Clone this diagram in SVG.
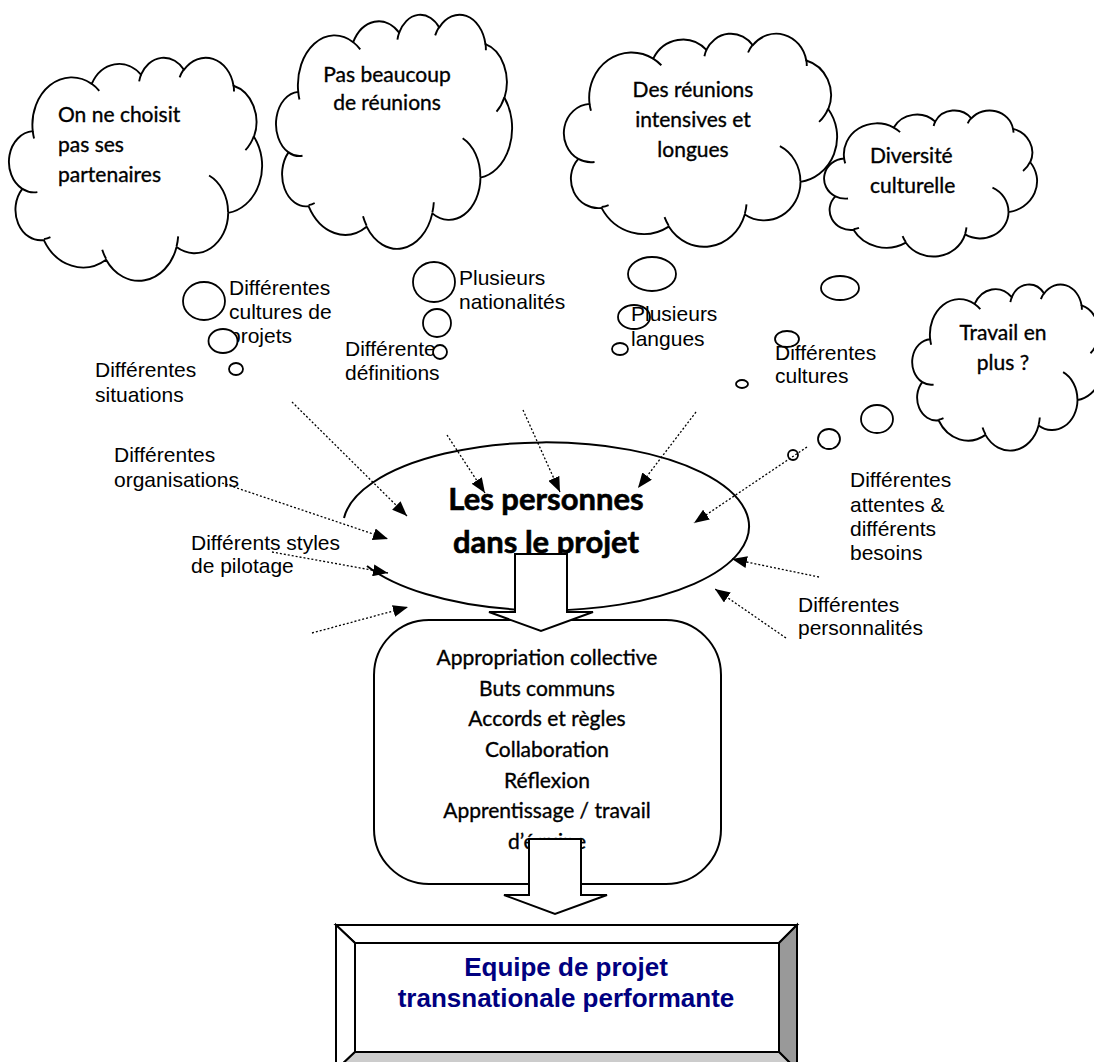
<svg xmlns="http://www.w3.org/2000/svg" width="1094" height="1062" viewBox="0 0 1094 1062">
<defs>
<style>
.cl{fill:#fff;stroke:#000;stroke-width:1.9;vector-effect:non-scaling-stroke;stroke-linejoin:round}
.cli{fill:none;stroke:#000;stroke-width:1.9;vector-effect:non-scaling-stroke}
.bub{fill:#fff;stroke:#000;stroke-width:1.8}
.hum{font-family:Lato,"Open Sans",sans-serif;font-size:21px;fill:#000;stroke:#000;stroke-width:0.35}
.ctr{text-anchor:middle}
.lbl{font-family:"Liberation Sans",Arial,sans-serif;font-size:21px;fill:#000}
.dot{fill:none;stroke:#000;stroke-width:1.3;stroke-dasharray:2 2;marker-end:url(#ah)}
.shape{fill:#fff;stroke:#000;stroke-width:2;stroke-linejoin:miter}
.title{font-family:Lato,"Open Sans",sans-serif;font-size:31px;font-weight:bold;fill:#000;stroke:#000;stroke-width:0.6;text-anchor:middle}
.res{font-family:"Liberation Sans",Arial,sans-serif;font-size:26px;font-weight:bold;fill:#000080;text-anchor:middle}
</style>
<marker id="ah" viewBox="0 0 15 12" refX="15" refY="6" markerWidth="15" markerHeight="12" markerUnits="userSpaceOnUse" orient="auto"><path d="M0,0 L15,6 L0,12 z" fill="#000"/></marker>
<g id="cloud">
<path class="cl" d="M9.03,33.26 A15.63,21.27 0 0 1 32.42,12.04 A12.34,16.82 0 0 1 51.98,7.94 A10.10,13.76 0 0 1 69.05,5.74 A11.24,15.27 0 0 1 88.70,12.90 A12.34,16.84 0 0 1 96.80,35.78 A15.68,21.34 0 0 1 86.58,69.91 A13.39,18.21 0 0 1 66.09,85.21 A15.63,21.33 0 0 1 38.14,90.89 A17.87,24.41 0 0 1 13.43,82.10 A10.09,13.70 0 0 1 4.89,59.13 A10.06,13.76 0 0 1 9.03,33.26 Z"/>
<path class="cli" d="M10.86,60.59 A10.06,13.76 0 0 1 4.89,59.13 M16.04,80.78 A10.09,13.70 0 0 1 13.47,81.67 M38.14,90.49 A15.63,21.33 0 0 1 36.60,86.46 M66.73,80.44 A15.63,21.33 0 0 1 66.11,84.86 M79.00,53.13 A13.39,18.21 0 0 1 86.53,69.65 M96.75,35.54 A12.34,16.84 0 0 1 93.41,41.73 M88.71,12.56 A11.24,15.27 0 0 1 88.89,15.49 M67.31,9.15 A11.24,15.27 0 0 1 69.03,5.42 M51.25,10.93 A10.10,13.76 0 0 1 52.08,7.71 M32.41,12.02 A15.63,21.27 0 0 1 35.42,15.14 M9.55,36.55 A15.63,21.27 0 0 1 9.03,33.26"/>
</g>
</defs>
<rect width="1094" height="1062" fill="#fff"/>

<g id="cloud-partenaires">
<use href="#cloud" transform="translate(10,57) scale(2.52,2.23)"/>
<text class="hum" x="58" y="122">On ne choisit</text>
<text class="hum" x="58" y="152">pas ses</text>
<text class="hum" x="58" y="182">partenaires</text>
</g>
<g id="cloud-reunions">
<use href="#cloud" transform="translate(277,14) scale(2.35,2.34)"/>
<text class="hum ctr" x="387" y="82">Pas beaucoup</text>
<text class="hum ctr" x="387" y="110">de réunions</text>
</g>
<g id="cloud-intensives">
<use href="#cloud" transform="translate(565,33) scale(2.72,2.13)"/>
<text class="hum ctr" x="693" y="97">Des réunions</text>
<text class="hum ctr" x="693" y="127">intensives et</text>
<text class="hum ctr" x="693" y="157">longues</text>
</g>
<g id="cloud-diversite">
<use href="#cloud" transform="translate(825,110) scale(2.12,1.46)"/>
<text class="hum" x="870" y="163">Diversité</text>
<text class="hum" x="870" y="193">culturelle</text>
</g>
<g id="cloud-travail">
<use href="#cloud" transform="translate(913,284) scale(1.90,1.66)"/>
<text class="hum ctr" x="1003" y="340">Travail en</text>
<text class="hum ctr" x="1003" y="370">plus ?</text>
</g>

<g id="bubbles">
<ellipse class="bub" cx="204" cy="301" rx="21" ry="19"/>
<ellipse class="bub" cx="236" cy="369" rx="7" ry="6"/>
<ellipse class="bub" cx="434" cy="282" rx="21" ry="20"/>
<ellipse class="bub" cx="437" cy="323" rx="14" ry="14"/>
<ellipse class="bub" cx="652" cy="274" rx="24" ry="17"/>
<ellipse class="bub" cx="634" cy="317" rx="16" ry="12"/>
<ellipse class="bub" cx="620" cy="349" rx="8" ry="6"/>
<ellipse class="bub" cx="840" cy="288" rx="19" ry="12"/>
<ellipse class="bub" cx="787" cy="339" rx="12" ry="8"/>
<ellipse class="bub" cx="742" cy="384" rx="6" ry="4"/>
<ellipse class="bub" cx="877" cy="419" rx="16" ry="14"/>
<ellipse class="bub" cx="829" cy="439" rx="11" ry="10"/>
<ellipse class="bub" cx="793" cy="455" rx="5" ry="5"/>
</g>

<g id="label-cultures-projets">
<text class="lbl" x="229" y="295">Différentes</text>
<text class="lbl" x="229" y="319">cultures de</text>
<text class="lbl" x="229" y="343">projets</text>
<ellipse class="bub" cx="223" cy="341" rx="14.5" ry="12"/>
</g>
<g id="label-situations">
<text class="lbl" x="95" y="377">Différentes</text>
<text class="lbl" x="95" y="402">situations</text>
</g>
<g id="label-nationalites">
<text class="lbl" x="459" y="285">Plusieurs</text>
<text class="lbl" x="459" y="309">nationalités</text>
</g>
<g id="label-definitions">
<text class="lbl" x="345" y="356">Différentes</text>
<text class="lbl" x="345" y="380">définitions</text>
<ellipse class="bub" cx="440" cy="352" rx="7" ry="7"/>
</g>
<g id="label-langues">
<text class="lbl" x="631" y="321">Plusieurs</text>
<text class="lbl" x="631" y="346">langues</text>
</g>
<g id="label-cultures">
<text class="lbl" x="775" y="360">Différentes</text>
<text class="lbl" x="775" y="383">cultures</text>
</g>
<g id="label-attentes">
<text class="lbl" x="850" y="487">Différentes</text>
<text class="lbl" x="850" y="512">attentes &amp;</text>
<text class="lbl" x="850" y="536">différents</text>
<text class="lbl" x="850" y="560">besoins</text>
</g>
<g id="label-personnalites">
<text class="lbl" x="798" y="612">Différentes</text>
<text class="lbl" x="798" y="635">personnalités</text>
</g>
<g id="label-organisations">
<text class="lbl" x="114" y="462">Différentes</text>
<text class="lbl" x="114" y="487">organisations</text>
</g>
<g id="label-pilotage">
<text class="lbl" x="191" y="550">Différents styles</text>
<text class="lbl" x="191" y="573">de pilotage</text>
</g>

<g id="node-personnes">
<path d="M344,518 A203,84 0 1 1 367,566" fill="none" stroke="#000" stroke-width="2"/>
</g>

<g id="connectors">
<path class="dot" d="M292,402 L407,516"/>
<path class="dot" d="M447,435 L485,493"/>
<path class="dot" d="M523,410 L560,492"/>
<path class="dot" d="M696,412 L638,488"/>
<path class="dot" d="M807,447 L694,523"/>
<path class="dot" d="M819,577 L732,559"/>
<path class="dot" d="M786,638 L715,589"/>
<path class="dot" d="M222,483 L388,539"/>
<path class="dot" d="M272,552 L388,573"/>
<path class="dot" d="M312,633 L408,607"/>
</g>

<g id="node-personnes-text">
<text class="title" x="546" y="510">Les personnes</text>
<text class="title" x="546" y="553">dans le projet</text>
</g>

<g id="node-processus">
<rect class="shape" x="374" y="620" width="347" height="264" rx="55" ry="55"/>
<text class="hum ctr" x="547" y="665">Appropriation collective</text>
<text class="hum ctr" x="547" y="696">Buts communs</text>
<text class="hum ctr" x="547" y="726">Accords et règles</text>
<text class="hum ctr" x="547" y="757">Collaboration</text>
<text class="hum ctr" x="547" y="788">Réflexion</text>
<text class="hum ctr" x="547" y="818">Apprentissage / travail</text>
<text class="hum ctr" x="547" y="849">d’équipe</text>
</g>

<g id="block-arrows">
<polygon class="shape" points="515,554 567,554 567,612 593,612 541,631 489,612 515,612"/>
<polygon class="shape" points="529,839 581,839 581,895 607,895 555,914 504,895 529,895"/>
</g>

<g id="node-equipe">
<polygon points="336,925 797,925 779,943 355,943" fill="#fff" stroke="#000" stroke-width="2"/>
<polygon points="336,925 355,943 355,1052 336,1070" fill="#fff" stroke="#000" stroke-width="2"/>
<polygon points="797,925 797,1070 779,1052 779,943" fill="#999" stroke="#000" stroke-width="2"/>
<polygon points="336,1070 797,1070 779,1052 355,1052" fill="#ccc" stroke="#000" stroke-width="2"/>
<rect x="355" y="943" width="424" height="109" fill="#fff" stroke="#000" stroke-width="2"/>
<text class="res" x="566" y="976">Equipe de projet</text>
<text class="res" x="566" y="1007">transnationale performante</text>
</g>
</svg>
